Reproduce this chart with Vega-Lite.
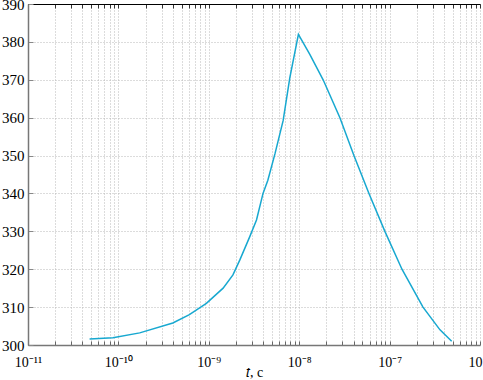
{
  "$schema": "https://vega.github.io/schema/vega-lite/v6.json",
  "width": 452,
  "height": 341,
  "autosize": {"type": "none"},
  "padding": {"left": 28, "top": 4, "right": 3, "bottom": 35},
  "background": "white",
  "config": {"view": {"stroke": null}, "font": "Liberation Serif"},
  "data": {"values": [
    {"t": 4.8e-11, "T": 301.6},
    {"t": 8.7e-11, "T": 301.9},
    {"t": 1.72e-10, "T": 303.2},
    {"t": 4.0e-10, "T": 305.8},
    {"t": 6.1e-10, "T": 308.0},
    {"t": 9.4e-10, "T": 311.0},
    {"t": 1.44e-9, "T": 315.0},
    {"t": 1.85e-9, "T": 318.5},
    {"t": 2.2e-9, "T": 322.4},
    {"t": 2.84e-9, "T": 328.6},
    {"t": 3.37e-9, "T": 333.0},
    {"t": 3.98e-9, "T": 340.0},
    {"t": 4.5e-9, "T": 343.5},
    {"t": 5.4e-9, "T": 350.5},
    {"t": 6.64e-9, "T": 359.2},
    {"t": 7.87e-9, "T": 370.5},
    {"t": 9.8e-9, "T": 382.0},
    {"t": 1.31e-8, "T": 376.7},
    {"t": 1.84e-8, "T": 370.0},
    {"t": 2.82e-8, "T": 360.0},
    {"t": 4.03e-8, "T": 350.0},
    {"t": 5.91e-8, "T": 340.0},
    {"t": 8.87e-8, "T": 330.0},
    {"t": 1.37e-7, "T": 320.0},
    {"t": 2.34e-7, "T": 310.0},
    {"t": 3.61e-7, "T": 304.0},
    {"t": 4.86e-7, "T": 301.0}
  ]},
  "layer": [
    {
      "mark": {"type": "line", "color": "#17a8d0", "strokeWidth": 1.5, "clip": true},
      "encoding": {
        "x": {
          "field": "t", "type": "quantitative",
          "scale": {"type": "log", "domain": [1e-11, 1e-6], "nice": false},
          "axis": {
            "orient": "bottom",
            "title": "𝑡, c",
            "titleFont": "Liberation Serif",
            "titleFontSize": 14,
            "titleFontWeight": "normal",
            "titleColor": "black",
            "titlePadding": -4,
            "values": [1e-11,2e-11,3e-11,4e-11,5e-11,6e-11,7e-11,8e-11,9e-11,1e-10,2e-10,3e-10,4e-10,5e-10,6e-10,7e-10,8e-10,9e-10,1e-9,2e-9,3e-9,4e-9,5e-9,6e-9,7e-9,8e-9,9e-9,1e-8,2e-8,3e-8,4e-8,5e-8,6e-8,7e-8,8e-8,9e-8,1e-7,2e-7,3e-7,4e-7,5e-7,6e-7,7e-7,8e-7,9e-7,1e-6],
            "labelExpr": "abs(log(datum.value)/LN10 - round(log(datum.value)/LN10)) > 0.001 ? '' : round(log(datum.value)/LN10) == -11 ? '10⁻¹¹' : round(log(datum.value)/LN10) == -10 ? '10⁻¹⁰' : round(log(datum.value)/LN10) == -9 ? '10⁻⁹' : round(log(datum.value)/LN10) == -8 ? '10⁻⁸' : round(log(datum.value)/LN10) == -7 ? '10⁻⁷' : '10⁻⁶'",
            "labelFont": "Liberation Serif",
            "labelFontSize": 14,
            "labelColor": "black",
            "labelPadding": 14,
            "labelFlush": false,
            "labelOverlap": false,
            "tickSize": -4,
            "tickColor": "#666",
            "domainColor": "#777",
            "domainWidth": 1.5,
            "grid": true,
            "gridColor": "#b8b8b8",
            "gridDash": [1, 2],
            "gridWidth": 1
          }
        },
        "y": {
          "field": "T", "type": "quantitative",
          "scale": {"domain": [300, 390], "zero": false, "nice": false},
          "axis": {
            "title": null,
            "values": [300,310,320,330,340,350,360,370,380,390],
            "labelFont": "Liberation Serif",
            "labelFontSize": 15,
            "labelColor": "black",
            "labelPadding": 9,
            "labelFlush": false,
            "tickSize": -5,
            "tickColor": "#888",
            "domainColor": "#777",
            "domainWidth": 1.5,
            "grid": true,
            "gridColor": "#b8b8b8",
            "gridDash": [1, 2],
            "gridWidth": 1
          }
        }
      }
    },
    {
      "mark": {"type": "line", "opacity": 0},
      "encoding": {
        "x": {
          "field": "t", "type": "quantitative",
          "scale": {"type": "log", "domain": [1e-11, 1e-6], "nice": false},
          "axis": {
            "orient": "top",
            "title": null,
            "labels": false,
            "grid": false,
            "values": [1e-11,2e-11,3e-11,4e-11,5e-11,6e-11,7e-11,8e-11,9e-11,1e-10,2e-10,3e-10,4e-10,5e-10,6e-10,7e-10,8e-10,9e-10,1e-9,2e-9,3e-9,4e-9,5e-9,6e-9,7e-9,8e-9,9e-9,1e-8,2e-8,3e-8,4e-8,5e-8,6e-8,7e-8,8e-8,9e-8,1e-7,2e-7,3e-7,4e-7,5e-7,6e-7,7e-7,8e-7,9e-7,1e-6],
            "tickSize": -4,
            "tickColor": "#333",
            "domainColor": "black",
            "domainWidth": 1.2
          }
        },
        "y": {"field": "T", "type": "quantitative", "scale": {"domain": [300, 390], "zero": false, "nice": false}, "axis": null}
      }
    }
  ],
  "resolve": {"axis": {"x": "independent", "y": "independent"}}
}
